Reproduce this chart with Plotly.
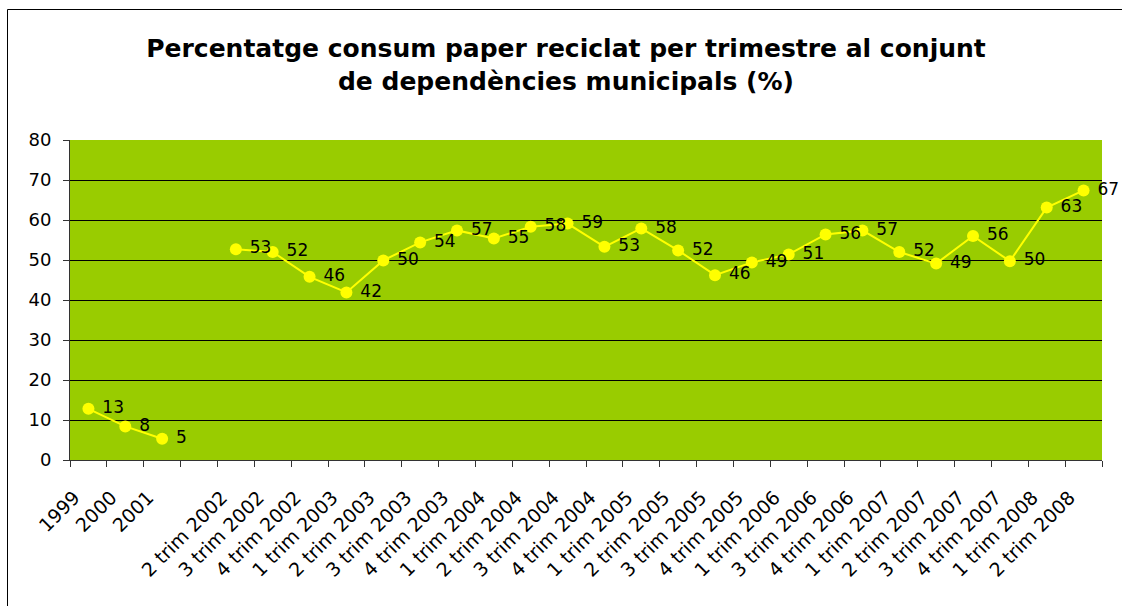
import plotly.graph_objects as go

categories = ["1999", "2000", "2001", " ",
              "2 trim 2002", "3 trim 2002", "4 trim 2002",
              "1 trim 2003", "2 trim 2003", "3 trim 2003", "4 trim 2003",
              "1 trim 2004", "2 trim 2004", "3 trim 2004", "4 trim 2004",
              "1 trim 2005", "2 trim 2005", "3 trim 2005", "4 trim 2005",
              "1 trim 2006", "3 trim 2006", "4 trim 2006",
              "1 trim 2007", "2 trim 2007", "3 trim 2007", "4 trim 2007",
              "1 trim 2008", "2 trim 2008"]
values = [12.8, 8.4, 5.3, None,
          52.7, 52.0, 45.8,
          41.9, 49.9, 54.4, 57.4,
          55.4, 58.3, 59.1, 53.3,
          57.9, 52.4, 46.2, 49.4,
          51.4, 56.4, 57.4,
          52.0, 49.1, 56.0, 49.7,
          63.1, 67.4]
y_ticks = [0, 10, 20, 30, 40, 50, 60, 70, 80]

title_text = ("Percentatge consum paper reciclat per trimestre al conjunt"
              "<br>de dependències municipals (%)")

FONT = "DejaVu Sans"

fig = go.Figure()
fig.add_trace(go.Scatter(
    x=categories, y=values,
    mode="lines+markers+text",
    line=dict(color="#FFFF00", width=2),
    marker=dict(color="#FFFF00", size=12),
    texttemplate=" %{y:.0f}",
    textposition="middle right",
    textfont=dict(family=FONT, size=17, color="#000000"),
    connectgaps=False,
    hoverinfo="skip",
    cliponaxis=False,
))

W, H = 1122, 606
L, R, T, B = 70, 20, 140, 146
pw, ph = W - L - R, H - T - B

def px(xf):
    return (xf - L) / pw

def py(yf):
    return (H - B - yf) / ph

fig.update_layout(
    width=W, height=H,
    margin=dict(l=L, r=R, t=T, b=B, pad=0),
    paper_bgcolor="#FFFFFF",
    plot_bgcolor="#99CC00",
    showlegend=False,
    font=dict(family=FONT, size=18, color="#000000"),
    title=dict(
        text=title_text,
        font=dict(family=FONT, size=25, color="#000000", weight="bold"),
        x=566 / W, xanchor="center", xref="container",
        y=1 - 57 / H, yanchor="middle", yref="container",
    ),
    xaxis=dict(
        type="category",
        categoryorder="array", categoryarray=categories,
        range=[-0.5, len(categories) - 0.5],
        tickson="boundaries",
        ticks="outside", ticklen=6, tickcolor="#333333",
        showgrid=False,
        showline=True, linecolor="#333333", linewidth=1,
        tickangle=-45,
        tickfont=dict(family=FONT, size=19, color="#000000"),
        ticklabelstandoff=18,
        ticklabelshift=-14,
        zeroline=False,
    ),
    yaxis=dict(
        range=[0, 80],
        tickvals=y_ticks,
        ticks="outside", ticklen=6, tickcolor="#333333",
        showgrid=True, gridcolor="#000000", gridwidth=1,
        showline=True, linecolor="#333333", linewidth=1,
        tickfont=dict(family=FONT, size=18, color="#000000"),
        ticklabelstandoff=8,
        zeroline=False,
    ),
    shapes=[
        dict(type="line", xref="paper", yref="paper",
             x0=px(7.5), x1=px(1130), y0=py(9.5), y1=py(9.5),
             line=dict(color="#000000", width=1)),
        dict(type="line", xref="paper", yref="paper",
             x0=px(7.5), x1=px(7.5), y0=py(9.5), y1=py(620),
             line=dict(color="#000000", width=1)),
    ],
)

fig.write_html(
    "out.html",
    config={"displayModeBar": False},
    post_script="document.body.style.margin='0px';"
                "document.body.style.overflow='hidden';",
)
